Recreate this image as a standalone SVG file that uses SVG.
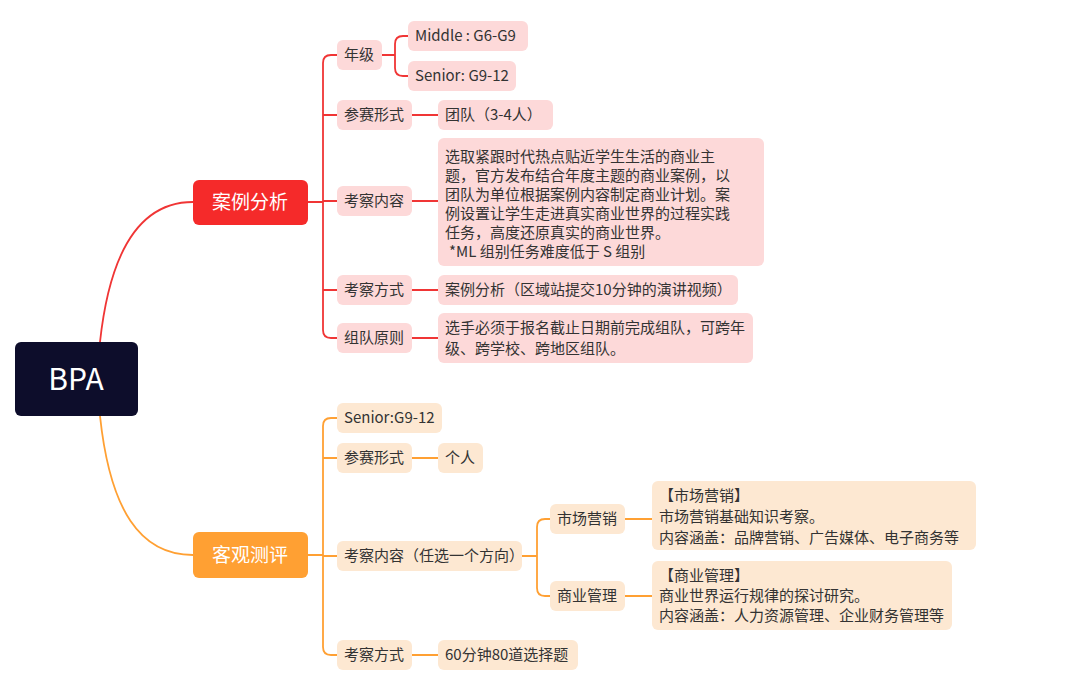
<svg xmlns="http://www.w3.org/2000/svg" width="1080" height="677" viewBox="0 0 1080 677">
<style>
text{font-family:"Noto Sans CJK SC","Noto Sans",sans-serif;font-size:15px;fill:#333}
.r{fill:#fdd9d9}.o{fill:#fde8d2}
.lr{stroke:#f03535;stroke-width:1.8;fill:none}.lo{stroke:#ffa033;stroke-width:1.8;fill:none}
.big{font-size:19px;fill:#fff}
</style>
<rect width="1080" height="677" fill="#fff"/>
<g id="connectors">
<path class="lr" d="M100 342 C110 250 140 202 193 202"/>
<path class="lo" d="M100 416 C110 510 140 555 193 555"/>
<path class="lr" d="M308 202 H323 M337 55 H331 Q323 55 323 63 V330 Q323 338 331 338 H337 M323 115 H337 M323 201 H337 M323 290 H337"/>
<path class="lr" d="M382 55 H395 M408 36 H403 Q395 36 395 44 V68 Q395 76 403 76 H408"/>
<path class="lr" d="M412 115 H438 M412 201 H438 M412 290 H438 M412 338 H438"/>
<path class="lo" d="M308 555 H323 M337 418 H331 Q323 418 323 426 V647 Q323 655 331 655 H337 M323 458 H337 M323 556 H337"/>
<path class="lo" d="M412 458 H438 M412 655 H438"/>
<path class="lo" d="M522 556 H537 M550 519 H545 Q537 519 537 527 V588 Q537 596 545 596 H550"/>
<path class="lo" d="M625 519 H652 M625 596 H652"/>
</g>
<g id="bpa"><rect x="15" y="342" width="123" height="74" rx="6" fill="#0d0d2b"/><text x="76" y="390" text-anchor="middle" style="font-size:30px;fill:#fff">BPA</text></g>
<g id="anli"><rect x="193" y="180" width="115" height="45" rx="6" fill="#f52a2a"/><text class="big" x="250" y="209" text-anchor="middle">案例分析</text></g>
<g id="keguan"><rect x="193" y="532" width="115" height="46" rx="6" fill="#ffa033"/><text class="big" x="250" y="562" text-anchor="middle">客观测评</text></g>
<g id="nianji"><rect class="r" x="337" y="40" width="45" height="30" rx="6"/><text x="344" y="60">年级</text></g>
<g id="middle"><rect class="r" x="408" y="21" width="120" height="30" rx="6"/><text x="415" y="41">Middle : G6-G9</text></g>
<g id="senior1"><rect class="r" x="408" y="61" width="108" height="30" rx="6"/><text x="415" y="81">Senior: G9-12</text></g>
<g id="cs1"><rect class="r" x="337" y="100" width="75" height="30" rx="6"/><text x="344" y="120">参赛形式</text></g>
<g id="team"><rect class="r" x="438" y="100" width="115" height="30" rx="6"/><text x="445" y="120">团队（3-4人）</text></g>
<g id="kc1"><rect class="r" x="337" y="186" width="75" height="30" rx="6"/><text x="344" y="206">考察内容</text></g>
<g id="kcText"><rect class="r" x="438" y="138" width="326" height="128" rx="6"/>
<text x="445" y="162">选取紧跟时代热点贴近学生生活的商业主</text>
<text x="445" y="181">题，官方发布结合年度主题的商业案例，以</text>
<text x="445" y="200">团队为单位根据案例内容制定商业计划。案</text>
<text x="445" y="219">例设置让学生走进真实商业世界的过程实践</text>
<text x="445" y="238">任务，高度还原真实的商业世界。</text>
<text x="449" y="257">*ML 组别任务难度低于 S 组别</text></g>
<g id="kf1"><rect class="r" x="337" y="275" width="75" height="30" rx="6"/><text x="344" y="295">考察方式</text></g>
<g id="kfText"><rect class="r" x="438" y="275" width="300" height="30" rx="6"/><text x="445" y="295">案例分析（区域站提交10分钟的演讲视频）</text></g>
<g id="zd"><rect class="r" x="337" y="323" width="75" height="30" rx="6"/><text x="344" y="343">组队原则</text></g>
<g id="zdText"><rect class="r" x="438" y="313" width="315" height="50" rx="6"/><text x="445" y="333">选手必须于报名截止日期前完成组队，可跨年</text><text x="445" y="354">级、跨学校、跨地区组队。</text></g>
<g id="senior2"><rect class="o" x="337" y="403" width="105" height="30" rx="6"/><text x="344" y="423">Senior:G9-12</text></g>
<g id="cs2"><rect class="o" x="337" y="443" width="75" height="30" rx="6"/><text x="344" y="463">参赛形式</text></g>
<g id="geren"><rect class="o" x="438" y="443" width="45" height="30" rx="6"/><text x="445" y="463">个人</text></g>
<g id="kc2"><rect class="o" x="337" y="541" width="185" height="30" rx="6"/><text x="344" y="561">考察内容（任选一个方向）</text></g>
<g id="sc"><rect class="o" x="550" y="504" width="75" height="30" rx="6"/><text x="557" y="524">市场营销</text></g>
<g id="scText"><rect class="o" x="652" y="481" width="324" height="69" rx="6"/><text x="659" y="501">【市场营销】</text><text x="659" y="522">市场营销基础知识考察。</text><text x="659" y="543">内容涵盖：品牌营销、广告媒体、电子商务等</text></g>
<g id="sy"><rect class="o" x="550" y="581" width="75" height="30" rx="6"/><text x="557" y="601">商业管理</text></g>
<g id="syText"><rect class="o" x="652" y="561" width="300" height="69" rx="6"/><text x="659" y="581">【商业管理】</text><text x="659" y="601">商业世界运行规律的探讨研究。</text><text x="659" y="621">内容涵盖：人力资源管理、企业财务管理等</text></g>
<g id="kf2"><rect class="o" x="337" y="640" width="75" height="30" rx="6"/><text x="344" y="660">考察方式</text></g>
<g id="kf2Text"><rect class="o" x="438" y="640" width="140" height="30" rx="6"/><text x="445" y="660">60分钟80道选择题</text></g>
</svg>
